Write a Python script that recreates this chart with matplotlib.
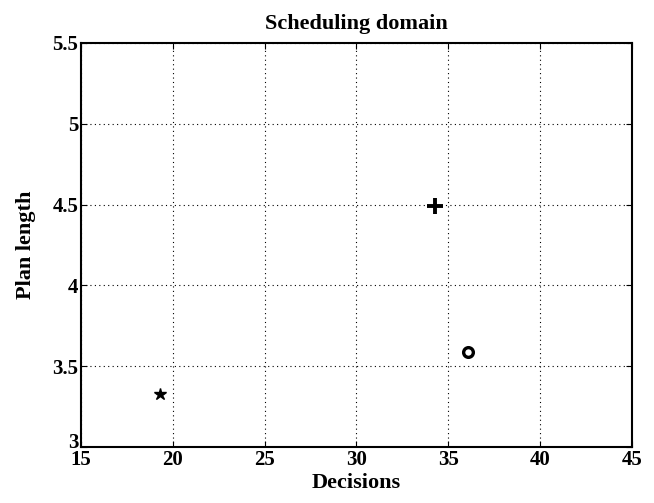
import matplotlib.pyplot as plt
import matplotlib.transforms as mtransforms

plt.rcParams['font.family'] = 'Liberation Serif'
plt.rcParams['font.weight'] = 'bold'

# points (decisions, plan length)
star_x = [19.3]
star_y = [3.33]
plus_x = [34.3]
plus_y = [4.49]
circ_x = [36.1]
circ_y = [3.59]

x_ticks = [15, 20, 25, 30, 35, 40, 45]
y_ticks = [3, 3.5, 4, 4.5, 5, 5.5]
y_labels = ['3', '3.5', '4', '4.5', '5', '5.5']


def main():
    fig = plt.figure(figsize=(6.54, 5.03), dpi=100)
    ax = fig.add_axes([0.124, 0.111, 0.842, 0.804])

    ax.plot(star_x, star_y, linestyle='none', marker='*', color='black', markersize=9)
    ax.plot(plus_x, plus_y, linestyle='none', marker='+', color='black', markersize=12, markeredgewidth=2.8)
    ax.plot(circ_x, circ_y, linestyle='none', marker='o', markerfacecolor='none',
            markeredgecolor='black', markersize=7, markeredgewidth=2.4)

    ax.set_xlim(15, 45)
    ax.set_ylim(3, 5.5)
    ax.set_xticks(x_ticks)
    ax.set_yticks(y_ticks)
    ax.set_yticklabels(y_labels)
    ax.tick_params(direction='in', top=True, right=True, labelsize=15, length=4)
    ax.tick_params(axis='x', pad=2)
    ax.tick_params(axis='y', pad=2)
    ax.grid(True, linestyle=(0, (1, 3)), color='black', linewidth=0.8)
    for s in ax.spines.values():
        s.set_linewidth(1.5)

    # lift the lowest y label a little, as in the original
    lab = ax.get_yticklabels()[0]
    lab.set_transform(lab.get_transform() + mtransforms.ScaledTranslation(0, 5 / 72, fig.dpi_scale_trans))

    ax.set_title('Scheduling domain', fontsize=16, fontweight='bold', pad=10)
    ax.set_xlabel('Decisions', fontsize=16, fontweight='bold', labelpad=2)
    ax.set_ylabel('Plan length', fontsize=16, fontweight='bold', labelpad=12)

    fig.savefig('out.png', dpi=100, facecolor='white')


if __name__ == "__main__":
    main()
